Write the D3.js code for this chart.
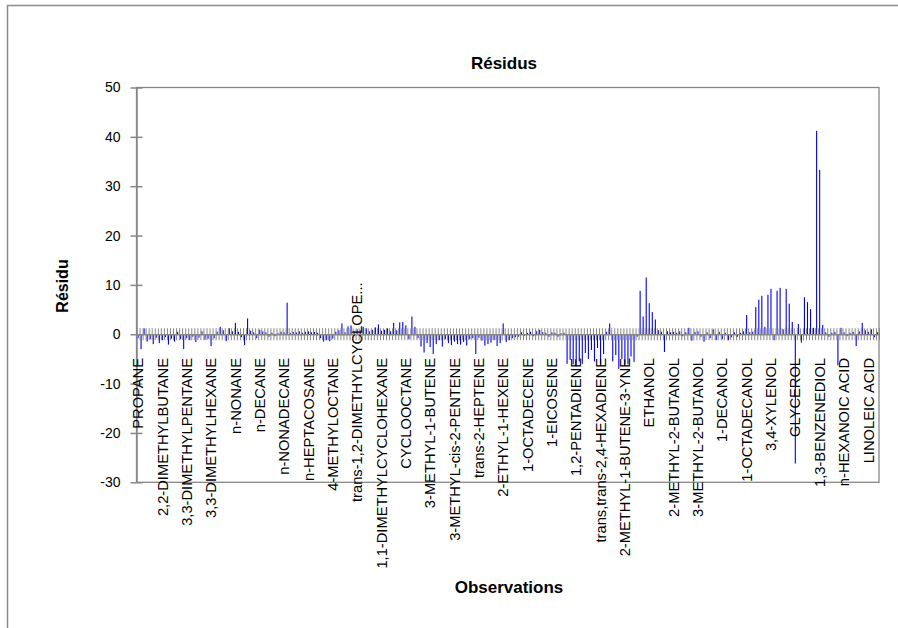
<html>
<head>
  <meta charset="utf-8">
  <title>Résidus</title>
</head>
<style>
  body {
    margin: 0;
    background-color: #fff;
  }
</style>

<body>
  <div id="chart"></div>
</body>

<script src="https://cdn.jsdelivr.net/npm/d3@7"></script>
<script>
  // noms affichés (une observation sur 8)
  const labels = [
    "PROPANE", "2,2-DIMETHYLBUTANE", "3,3-DIMETHYLPENTANE", "3,3-DIMETHYLHEXANE",
    "n-NONANE", "n-DECANE", "n-NONADECANE", "n-HEPTACOSANE", "4-METHYLOCTANE",
    "trans-1,2-DIMETHYLCYCLOPE...", "1,1-DIMETHYLCYCLOHEXANE", "CYCLOOCTANE",
    "3-METHYL-1-BUTENE", "3-METHYL-cis-2-PENTENE", "trans-2-HEPTENE", "2-ETHYL-1-HEXENE",
    "1-OCTADECENE", "1-EICOSENE", "1,2-PENTADIENE", "trans,trans-2,4-HEXADIENE",
    "2-METHYL-1-BUTENE-3-YNE", "ETHANOL", "2-METHYL-2-BUTANOL", "3-METHYL-2-BUTANOL",
    "1-DECANOL", "1-OCTADECANOL", "3,4-XYLENOL", "GLYCEROL", "1,3-BENZENEDIOL",
    "n-HEXANOIC ACID", "LINOLEIC ACID"
  ]
  const labelStep = 8

  // résidus, par groupe de 8 observations
  const residus = [
    -0.8, -3.0, 1.2, -1.5, -1.0, -2.0, -0.7, -1.8,
    -1.2, -0.6, -2.1, -0.9, -1.5, 0.5, -1.0, -3.0,
    -0.8, -1.2, -0.5, -1.6, -0.7, 0.6, -1.1, -0.9,
    -2.4, -0.8, 0.5, 1.5, 0.8, -1.4, 1.2, 0.6,
    2.3, 0.5, -0.6, -2.2, 3.2, 0.7, 0.4, -0.8,
    0.9, 0.6, 0.4, -0.5, 0.3, -0.4, 0.2, 0.5,
    0.4, 6.4, 0.3, 0.5, 0.4, 0.6, 0.3, 0.5,
    0.6, 0.4, 0.5, 0.3, -0.8, -1.5, -1.2, -1.4,
    -0.9, 0.5, 0.8, 2.2, 0.4, 1.6, 1.8, 0.7,
    1.0, 0.8, 1.5, 1.2, 0.6, 0.9, 1.4, 2.0,
    0.7, 0.9, 1.2, 0.6, 2.3, 0.8, 2.4, 2.5,
    1.8, -1.0, 3.6, 1.5, -0.8, -2.5, -3.7, -1.8,
    -2.6, -4.0, -2.0, -1.2, -2.5, -1.0, -1.8, -2.2,
    -1.5, -2.0, -2.1, -1.6, -2.3, -1.0, -0.8, -4.0,
    -0.7, -1.3, -2.3, -2.0, -1.7, -1.2, -2.4, -1.8,
    2.2, -1.6, -1.2, -0.8, -0.6, -0.5, 0.4, -0.3,
    0.3, 0.5, -0.4, 0.6, 0.9, 0.4, 0.3, -0.5,
    0.4, 0.3, -0.5, 0.2, 0.3, -6.0, -5.2, -6.1,
    -6.5, -5.5, -6.0, -3.8, -5.0, -3.2, -5.5, -2.8,
    -6.0, -4.0, 0.5, 2.2, -5.5, -4.2, -7.0, -5.0,
    -6.2, -6.1, -4.5, -5.6, -0.5, 8.8, 3.6, 11.5,
    6.3, 4.5, 3.0, 0.8, 0.5, -3.6, 0.6, 0.4,
    0.5, 0.3, 0.6, -0.4, 0.4, 1.3, -1.3, 0.5,
    0.6, -0.5, -1.5, 0.4, -0.8, 1.0, -1.2, 0.5,
    -1.0, 0.3, -1.2, -0.6, 0.4, -0.5, 0.3, 0.6,
    3.9, 0.4, 0.5, 5.5, 7.0, 7.8, 1.5, 8.0,
    9.2, -1.2, 8.8, 9.4, 1.0, 9.2, 6.2, 2.5,
    -26.2, 2.1, -1.7, 7.5, 6.5, 5.1, 1.3, 41.2,
    33.3, 1.9, 0.4, -0.5, 0.3, 0.5, -6.3, 1.3,
    0.4, -0.4, 0.3, 0.5, -2.4, 0.6, 2.3, 0.8,
    0.5, 1.0, -0.6, 0.4
  ]
  const yTicks = [-30, -20, -10, 0, 10, 20, 30, 40, 50]

  const width = 898
  const height = 628
  const plot = { left: 136.5, right: 879, top: 87.5, bottom: 482.3 }
  const gray = "#878787"
  const font = "'Liberation Sans', Arial, sans-serif"

  let n = residus.length

  let svg = d3.select("#chart").append("svg")
    .attr("width", width)
    .attr("height", height)
    .style("display", "block")

  svg.append("rect")
    .attr("width", width).attr("height", height)
    .attr("fill", "#fff")

  // cadre du graphique
  svg.append("rect")
    .attr("x", 7.5).attr("y", 5.5)
    .attr("width", width + 10).attr("height", height + 10)
    .attr("fill", "none")
    .attr("stroke", "#8c8c8c")
    .attr("stroke-width", 1.5)

  let x = d3.scaleBand()
    .domain(d3.range(n))
    .range([plot.left, plot.right])
  let xEdge = d3.scaleLinear()
    .domain([0, n])
    .range([plot.left, plot.right])
  let y = d3.scaleLinear()
    .domain([-30, 50])
    .range([plot.bottom, plot.top])

  // zone de traçage
  svg.append("rect")
    .attr("x", plot.left).attr("y", plot.top)
    .attr("width", plot.right - plot.left)
    .attr("height", plot.bottom - plot.top)
    .attr("fill", "none")
    .attr("stroke", gray)
    .attr("stroke-width", 1.3)

  //barres
  let barW = 1.1
  svg.append("g").selectAll("rect").data(residus).join("rect")
    .attr("x", (d, i) => x(i) + (x.bandwidth() - barW) / 2)
    .attr("y", d => y(Math.max(0, d)))
    .attr("width", barW)
    .attr("height", d => Math.abs(y(d) - y(0)))
    .attr("fill", "#0000ff")

  // axe des catégories (en y = 0), graduations croisées
  let gx = svg.append("g")
    .attr("transform", `translate(0,${y(0)})`)
    .call(d3.axisBottom(xEdge).tickValues(d3.range(n + 1)).tickFormat("").tickSizeOuter(0))
  gx.select(".domain").attr("stroke", gray).attr("stroke-width", 1.5)
  gx.selectAll(".tick line")
    .attr("y1", -6).attr("y2", 6)
    .attr("stroke", gray)

  // axe des y
  let gy = svg.append("g")
    .attr("transform", `translate(${plot.left},0)`)
    .call(d3.axisLeft(y).tickValues(yTicks).tickFormat(d => String(d)).tickSizeOuter(0))
  gy.select(".domain").attr("stroke", gray).attr("stroke-width", 1.5)
  gy.selectAll(".tick line")
    .attr("x1", -6).attr("x2", 6)
    .attr("stroke", gray).attr("stroke-width", 1.5)
  gy.selectAll(".tick text")
    .attr("x", -16)
    .attr("font-family", font)
    .attr("font-size", 14)
    .attr("fill", "#000")

  // étiquettes des observations
  let labelTop = 358
  let truncBottom = 502
  svg.append("g").selectAll("text").data(labels).join("text")
    .attr("transform", (d, k) => {
      let cx = x(k * labelStep) + x.bandwidth() / 2
      let ty = d.endsWith("...") ? truncBottom : labelTop
      return `translate(${cx},${ty}) rotate(-90)`
    })
    .attr("text-anchor", d => d.endsWith("...") ? "start" : "end")
    .attr("dy", "0.35em")
    .attr("font-family", font)
    .attr("font-size", 14.7)
    .attr("fill", "#000")
    .text(d => d)

  // titres
  svg.append("text")
    .attr("x", 504).attr("y", 69)
    .attr("text-anchor", "middle")
    .attr("font-family", font)
    .attr("font-weight", "bold")
    .attr("font-size", 17)
    .text("Résidus")

  svg.append("text")
    .attr("transform", "translate(68,286) rotate(-90)")
    .attr("text-anchor", "middle")
    .attr("font-family", font)
    .attr("font-weight", "bold")
    .attr("font-size", 16)
    .text("Résidu")

  svg.append("text")
    .attr("x", 509).attr("y", 593)
    .attr("text-anchor", "middle")
    .attr("font-family", font)
    .attr("font-weight", "bold")
    .attr("font-size", 17)
    .text("Observations")
</script>

</html>
